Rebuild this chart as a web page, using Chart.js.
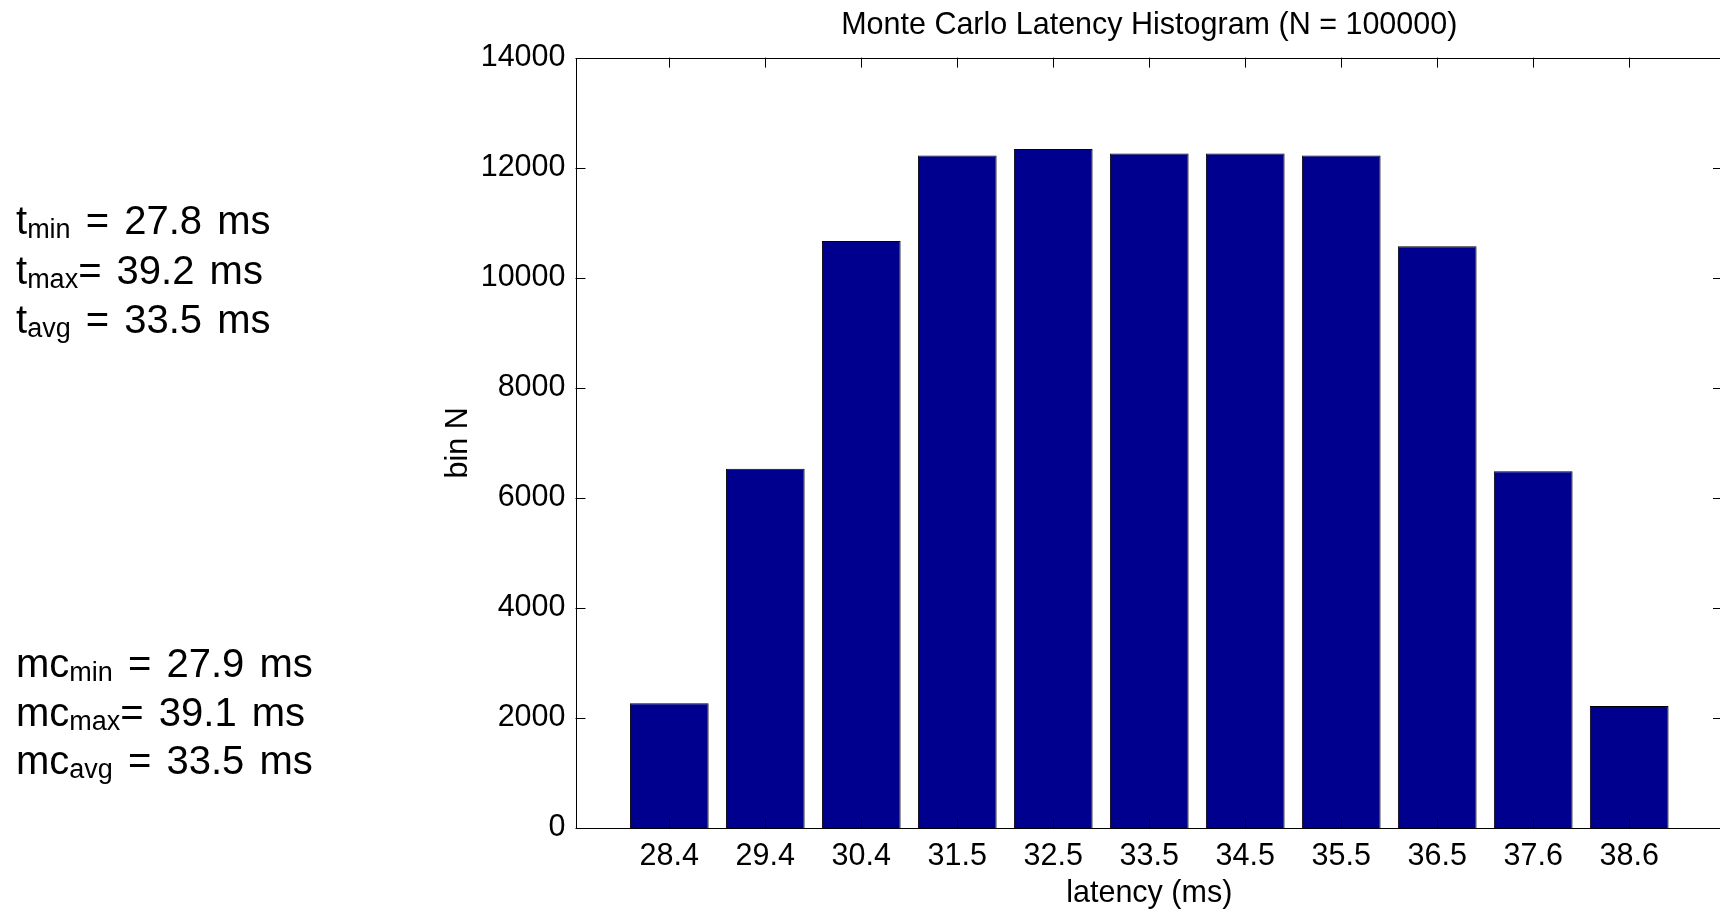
<!DOCTYPE html>
<html>
<head>
<meta charset="utf-8">
<title>Monte Carlo Latency Histogram</title>
<script src="https://cdn.jsdelivr.net/npm/chart.js@4.4.1/dist/chart.umd.min.js"></script>
<style>
    html, body { margin: 0; padding: 0; background: #fff; overflow: hidden; }
    #wrap { position: relative; width: 1730px; height: 910px; }
    #show_chart { position: absolute; left: 0; top: 0; }
    .note {
        position: absolute;
        left: 16px;
        font: 40px "Liberation Sans", Arial, sans-serif;
        line-height: 40px;
        word-spacing: 4px;
        white-space: pre;
        color: #000;
    }
    .note sub {
        font-size: 27px;
        vertical-align: baseline;
        position: relative;
        top: 4px;
    }
</style>
</head>
<body>
<div id="wrap">
    <canvas id="show_chart" width="1730" height="910"></canvas>
</div>
<script>
// histogram bins (centre of each bin, ms) and counts per bin
const binLabels = ['28.4', '29.4', '30.4', '31.5', '32.5', '33.5', '34.5', '35.5', '36.5', '37.6', '38.6']
const binCounts = [2265, 6530, 10665, 12220, 12340, 12255, 12255, 12220, 10570, 6485, 2215]
const yTicks = [0, 2000, 4000, 6000, 8000, 10000, 12000, 14000]

// summary stats shown on the left
const statNames = ['min', 'max', 'avg']
const traceStats = ['27.8', '39.2', '33.5']
const mcStats = ['27.9', '39.1', '33.5']

const FONT = '"Liberation Sans", Arial, sans-serif'
const SIZE = 30.5

// ===== STAT NOTES =====
const wrap = document.querySelector('#wrap')
const traceTops = [200, 250, 299]
const mcTops = [643, 692, 740]

const addNote = (prefix, name, value, top) => {
    const el = document.createElement('div')
    el.className = 'note'
    el.style.top = top + 'px'
    // "max" is wide enough that MATLAB-style layout drops the space before "="
    const gap = name === 'max' ? '' : ' '
    el.innerHTML = prefix + '<sub>' + name + '</sub>' + gap + '= ' + value + ' ms'
    wrap.appendChild(el)
}

statNames.forEach((name, i) => {
    addNote('t', name, traceStats[i], traceTops[i])
    addNote('mc', name, mcStats[i], mcTops[i])
})

// ===== AXES BOX WITH INWARD TICKS =====
const axesBox = {
    id: 'axesBox',
    afterDatasetsDraw(chart) {
        const { ctx, chartArea: a, scales: { x, y } } = chart
        const len = 10
        ctx.save()
        ctx.strokeStyle = '#000'
        ctx.lineWidth = 1
        ctx.beginPath()
        x.ticks.forEach(t => {
            const px = Math.round(x.getPixelForValue(t.value)) + 0.5
            ctx.moveTo(px, a.top)
            ctx.lineTo(px, a.top + len)
            ctx.moveTo(px, a.bottom)
            ctx.lineTo(px, a.bottom - len)
        })
        y.ticks.forEach(t => {
            const py = Math.round(y.getPixelForValue(t.value)) + 0.5
            ctx.moveTo(a.left, py)
            ctx.lineTo(a.left + len, py)
            ctx.moveTo(a.right, py)
            ctx.lineTo(a.right - len, py)
        })
        ctx.stroke()
        ctx.strokeRect(Math.round(a.left) + 0.5, Math.round(a.top) + 0.5,
            Math.round(a.right - a.left), Math.round(a.bottom - a.top))
        ctx.restore()
    }
}

const ctx = document.querySelector('#show_chart').getContext('2d')

new Chart(ctx, {
    type: 'bar',
    data: {
        datasets: [
            {
                data: binCounts.map((n, i) => ({ x: i + 1, y: n })),
                backgroundColor: '#00008f',
                borderColor: '#000000',
                borderWidth: 1,
                barPercentage: 0.82,
                categoryPercentage: 1
            }
        ]
    },
    options: {
        responsive: false,
        animation: false,
        events: [],
        layout: { padding: { left: 440, right: 7, top: 0, bottom: 0 } },
        plugins: {
            legend: { display: false },
            tooltip: { enabled: false },
            title: {
                display: true,
                fullSize: false,
                text: 'Monte Carlo Latency Histogram (N = 100000)',
                color: '#000',
                font: { family: FONT, size: SIZE, weight: 'normal' },
                padding: { top: 7, bottom: 14 }
            }
        },
        scales: {
            x: {
                type: 'linear',
                offset: false,
                min: 0.023,
                max: 11.977,
                afterBuildTicks: axis => {
                    axis.ticks = binLabels.map((_, i) => ({ value: i + 1 }))
                },
                afterFit: scale => { scale.height = 82 },
                grid: { display: false, drawTicks: false },
                border: { display: false },
                ticks: {
                    autoSkip: false,
                    maxRotation: 0,
                    padding: 10,
                    color: '#000',
                    font: { family: FONT, size: SIZE },
                    callback: (value, index) => binLabels[index]
                },
                title: {
                    display: true,
                    text: 'latency (ms)',
                    color: '#000',
                    font: { family: FONT, size: SIZE },
                    padding: { top: 0, bottom: -2 }
                }
            },
            y: {
                min: 0,
                max: 14000,
                afterBuildTicks: axis => {
                    axis.ticks = yTicks.map(v => ({ value: v }))
                },
                afterFit: scale => { scale.width = 135.5 },
                grid: { display: false, drawTicks: false },
                border: { display: false },
                ticks: {
                    padding: 10,
                    color: '#000',
                    font: { family: FONT, size: SIZE },
                    callback: value => String(value)
                },
                title: {
                    display: true,
                    text: 'bin N',
                    color: '#000',
                    font: { family: FONT, size: SIZE },
                    padding: { top: 0, bottom: 0 }
                }
            }
        }
    },
    plugins: [axesBox]
})
</script>
</body>
</html>
